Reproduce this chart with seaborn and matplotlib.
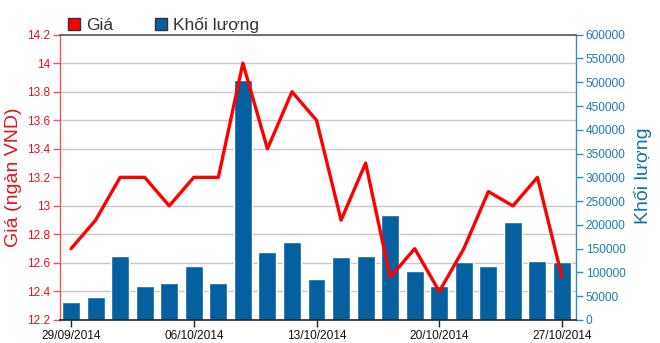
import matplotlib
matplotlib.use("Agg")
import matplotlib.pyplot as plt
import numpy as np
import pandas as pd
import seaborn as sns
from matplotlib.patches import Patch
from matplotlib.ticker import FuncFormatter, MultipleLocator

# Trading sessions, closing price (thousand VND) and matched volume
dates = [
    "29/09/2014", "30/09/2014", "01/10/2014", "02/10/2014", "03/10/2014",
    "06/10/2014", "07/10/2014", "08/10/2014", "09/10/2014", "10/10/2014",
    "13/10/2014", "14/10/2014", "15/10/2014", "16/10/2014", "17/10/2014",
    "20/10/2014", "21/10/2014", "22/10/2014", "23/10/2014", "24/10/2014",
    "27/10/2014",
]
price = [12.7, 12.9, 13.2, 13.2, 13.0, 13.2, 13.2, 14.0, 13.4, 13.8,
         13.6, 12.9, 13.3, 12.5, 12.7, 12.4, 12.7, 13.1, 13.0, 13.2, 12.5]
volume = [38000, 48000, 135000, 72000, 77000, 113000, 77000, 505000, 144000, 163000,
          86000, 132000, 135000, 221000, 104000, 72000, 121000, 113000, 207000, 125000, 121000]
tick_dates = ["29/09/2014", "06/10/2014", "13/10/2014", "20/10/2014", "27/10/2014"]

RED = "#ff0000"
RED_TEXT = "#e3141c"
RED_SPINE = "#e85a5a"
BAR = "#0560a0"
BLUE_AXIS = "#3a8cbf"
BLUE_TEXT = "#1f7cae"
BLUE_LABEL = "#1672a4"

sns.set_theme(style="white")
plt.rcParams["font.family"] = ["Liberation Sans", "DejaVu Sans"]

df = pd.DataFrame({"pos": np.arange(len(dates)), "date": dates,
                   "price": price, "volume": volume})

W, H = 660, 343
fig = plt.figure(figsize=(W / 100, H / 100), dpi=100)
ax = fig.add_axes([60 / W, 1 - 320 / H, (576 - 60) / W, (320 - 34.7) / H])
ax2 = ax.twinx()
ax.set_zorder(ax2.get_zorder() + 1)
ax.patch.set_visible(False)

# Volume bars on the right-hand axis
sns.barplot(data=df, x="pos", y="volume", color=BAR, width=0.73,
            saturation=1, ax=ax2, zorder=2)
# Price line on the left-hand axis, drawn above the bars
sns.lineplot(data=df, x="pos", y="price", color=RED, linewidth=2.4, ax=ax)

ax.set_ylim(12.2, 14.2)
ax2.set_ylim(0, 600000)

# Left axis (price)
ax.set_yticks(np.round(np.arange(12.2, 14.21, 0.2), 1))
ax.yaxis.set_major_formatter(FuncFormatter(lambda v, _: f"{v:.1f}".rstrip("0").rstrip(".")))
ax.tick_params(axis="y", left=True, length=5, width=1, color=RED_SPINE,
               labelcolor=RED_TEXT, labelsize=8.6, pad=2)
ax.set_ylabel("Giá (ngàn VND)", color=RED_TEXT, fontsize=14)
ax.yaxis.set_label_coords(-0.0736, 0.5)

# Right axis (volume)
ax2.set_yticks(np.arange(0, 600001, 50000))
ax2.yaxis.set_major_formatter(FuncFormatter(lambda v, _: f"{int(round(v))}"))
ax2.tick_params(axis="y", right=True, length=5, width=1, color=BLUE_AXIS,
                labelcolor=BLUE_TEXT, labelsize=8.6, pad=2)
ax2.set_ylabel("Khối lượng", color=BLUE_LABEL, fontsize=14)
ax2.yaxis.set_label_coords(1.112, 0.505)

# Horizontal grid at the price steps, kept behind the bars
ax2.yaxis.set_minor_locator(MultipleLocator(60000))
ax2.grid(visible=True, which="minor", axis="y", color="#c8c8c8", linewidth=1)
ax2.tick_params(axis="y", which="minor", length=0)
ax2.set_axisbelow(True)

# X axis with weekly date labels
ax.set_xticks([dates.index(d) for d in tick_dates])
ax.set_xticklabels(tick_dates)
ax.tick_params(axis="x", bottom=True, length=5, width=1, color="#222222",
               labelcolor="#111111", labelsize=8.6, pad=2)
ax.set_xlabel("")
ax2.set_xlabel("")
ax.set_xlim(-0.45, 20.57)

# Spines
for s in ("left", "top", "bottom"):
    ax2.spines[s].set_visible(False)
ax.spines["right"].set_visible(False)
ax.spines["left"].set_color(RED_SPINE)
ax.spines["left"].set_linewidth(1)
ax.spines["top"].set_color("#555555")
ax.spines["top"].set_linewidth(1.2)
ax.spines["bottom"].set_color("#222222")
ax.spines["bottom"].set_linewidth(1.2)
ax2.spines["right"].set_color(BLUE_AXIS)
ax2.spines["right"].set_linewidth(1)

# Legend above the plot
handles = [Patch(facecolor=RED, edgecolor="#333333", label="Giá"),
           Patch(facecolor=BAR, edgecolor="#333333", label="Khối lượng")]
fig.legend(handles=handles, loc="center left", bbox_to_anchor=(0.1026, 1 - 25 / H),
           ncol=2, frameon=False, fontsize=12.5, handlelength=0.72, handleheight=0.72,
           handletextpad=0.33, columnspacing=2.4, borderaxespad=0, borderpad=0,
           labelcolor="#333333")

fig.savefig("out.png", dpi=100)
